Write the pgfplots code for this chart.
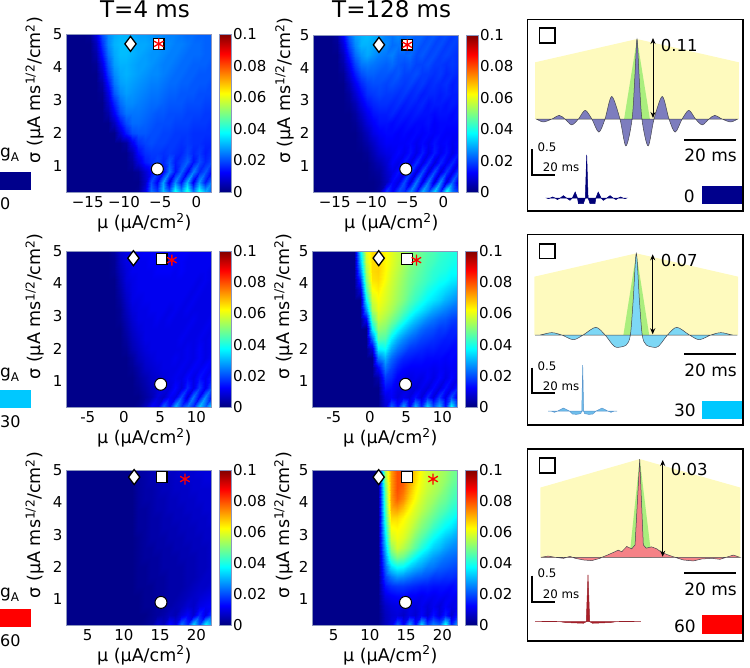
\documentclass[border=0pt]{standalone}
\usepackage{fontspec}
\setmainfont{DejaVu Sans}
\usepackage{pgfplots}
\usepackage{pgfplotstable}
\pgfplotsset{compat=1.18}
\usetikzlibrary{arrows.meta}
\newcommand{\fsz}[1]{\fontsize{#1}{#1}\selectfont}
\definecolor{axc}{RGB}{140,150,190}
\definecolor{yel}{RGB}{254,250,190}
\definecolor{grn}{RGB}{170,238,125}
\definecolor{navyb}{RGB}{0,0,140}
\definecolor{jet0}{RGB}{0,0,130}
\definecolor{cyanb}{RGB}{0,200,255}
\definecolor{cur}{RGB}{70,70,80}

% heat maps: 25 columns, 17 rows from sigma=5 down to 0.2, values in 1/1000
\pgfplotstableread[row sep=\\,header=false]{
1\\1\\1\\1\\2\\9\\20\\26\\29\\30\\30\\29\\28\\28\\27\\26\\26\\25\\25\\24\\23\\23\\22\\22\\22\\
1\\1\\1\\1\\1\\6\\17\\26\\30\\31\\31\\30\\29\\29\\28\\27\\26\\26\\25\\25\\24\\23\\23\\22\\22\\
1\\1\\1\\1\\1\\4\\14\\24\\29\\31\\31\\30\\29\\28\\27\\27\\26\\25\\25\\24\\23\\23\\23\\22\\22\\
1\\1\\1\\1\\1\\2\\10\\21\\28\\30\\30\\29\\28\\28\\27\\26\\25\\25\\24\\23\\23\\22\\22\\22\\21\\
1\\1\\1\\1\\1\\1\\7\\18\\26\\29\\30\\29\\28\\27\\26\\26\\25\\24\\23\\23\\22\\22\\21\\21\\21\\
1\\1\\1\\1\\1\\1\\4\\14\\24\\28\\29\\28\\27\\26\\25\\25\\24\\23\\23\\22\\22\\21\\21\\21\\20\\
1\\1\\1\\1\\1\\1\\2\\10\\21\\26\\28\\27\\26\\25\\24\\24\\23\\22\\22\\21\\21\\21\\20\\20\\20\\
1\\1\\1\\1\\1\\1\\1\\7\\16\\23\\26\\26\\25\\24\\23\\23\\22\\21\\21\\21\\20\\20\\20\\19\\19\\
1\\1\\1\\1\\1\\1\\1\\4\\12\\20\\24\\24\\24\\23\\22\\21\\21\\20\\20\\20\\19\\19\\19\\18\\18\\
1\\1\\1\\1\\1\\1\\1\\1\\6\\14\\20\\23\\23\\22\\21\\20\\20\\20\\19\\19\\19\\18\\18\\18\\17\\
1\\1\\1\\1\\1\\1\\1\\1\\1\\8\\15\\20\\21\\21\\20\\20\\19\\19\\18\\18\\18\\17\\17\\17\\17\\
1\\1\\1\\1\\1\\1\\1\\1\\1\\1\\3\\11\\17\\19\\20\\19\\19\\18\\18\\17\\18\\17\\17\\16\\16\\
1\\1\\1\\1\\1\\1\\1\\1\\1\\1\\1\\5\\13\\17\\18\\18\\17\\18\\17\\16\\19\\16\\18\\15\\17\\
1\\1\\1\\1\\1\\1\\1\\1\\1\\1\\1\\3\\9\\15\\17\\19\\16\\21\\15\\18\\22\\14\\20\\16\\19\\
1\\1\\1\\1\\1\\1\\1\\1\\1\\1\\1\\1\\2\\8\\13\\18\\13\\24\\14\\22\\12\\25\\16\\21\\13\\
1\\1\\1\\1\\1\\1\\1\\1\\1\\1\\1\\1\\1\\7\\20\\12\\28\\10\\26\\14\\30\\11\\27\\15\\24\\
1\\1\\1\\1\\1\\1\\1\\1\\1\\1\\1\\1\\2\\10\\24\\18\\32\\22\\40\\28\\42\\24\\40\\30\\22\\
}\tA
\pgfplotstableread[row sep=\\,header=false]{
1\\1\\1\\1\\3\\12\\22\\28\\30\\31\\30\\28\\25\\24\\26\\23\\24\\22\\22\\20\\21\\19\\20\\18\\19\\
1\\1\\1\\1\\2\\9\\19\\26\\30\\30\\29\\27\\26\\23\\24\\25\\21\\22\\20\\21\\19\\20\\18\\19\\18\\
1\\1\\1\\1\\1\\6\\15\\23\\27\\29\\27\\25\\24\\25\\22\\22\\23\\20\\21\\19\\20\\18\\19\\18\\17\\
1\\1\\1\\1\\1\\4\\11\\19\\24\\25\\24\\23\\22\\23\\21\\20\\21\\19\\19\\20\\18\\18\\17\\18\\17\\
1\\1\\1\\1\\1\\2\\8\\15\\20\\22\\22\\21\\21\\20\\21\\19\\19\\20\\18\\18\\17\\18\\16\\17\\16\\
1\\1\\1\\1\\1\\1\\5\\11\\16\\19\\20\\20\\19\\20\\19\\18\\19\\17\\18\\16\\17\\16\\17\\15\\16\\
1\\1\\1\\1\\1\\1\\3\\8\\13\\17\\18\\19\\18\\18\\17\\18\\16\\17\\15\\16\\16\\15\\16\\15\\15\\
1\\1\\1\\1\\1\\1\\2\\5\\10\\14\\16\\17\\17\\16\\17\\15\\16\\15\\16\\14\\15\\15\\14\\15\\14\\
1\\1\\1\\1\\1\\1\\1\\3\\7\\11\\14\\15\\15\\16\\14\\15\\14\\15\\14\\14\\13\\14\\14\\13\\14\\
1\\1\\1\\1\\1\\1\\1\\2\\5\\9\\12\\14\\14\\13\\14\\13\\14\\13\\13\\14\\12\\13\\13\\13\\13\\
1\\1\\1\\1\\1\\1\\1\\1\\3\\6\\10\\12\\13\\13\\12\\13\\12\\13\\12\\13\\12\\13\\12\\12\\12\\
1\\1\\1\\1\\1\\1\\1\\1\\2\\4\\7\\10\\12\\12\\12\\12\\13\\11\\13\\11\\14\\12\\13\\11\\13\\
1\\1\\1\\1\\1\\1\\1\\1\\1\\2\\5\\8\\10\\11\\13\\11\\14\\10\\15\\10\\15\\11\\14\\10\\14\\
1\\1\\1\\1\\1\\1\\1\\1\\1\\1\\3\\5\\8\\12\\10\\15\\10\\17\\10\\17\\9\\16\\11\\16\\10\\
1\\1\\1\\1\\1\\1\\1\\1\\1\\1\\2\\3\\7\\10\\14\\9\\18\\9\\20\\9\\20\\9\\18\\10\\19\\
1\\1\\1\\1\\1\\1\\1\\1\\1\\1\\1\\2\\6\\13\\10\\20\\9\\24\\10\\24\\9\\26\\9\\22\\10\\
1\\1\\1\\1\\1\\1\\1\\1\\1\\1\\1\\3\\18\\12\\20\\16\\26\\14\\30\\20\\34\\16\\40\\24\\18\\
}\tB
\pgfplotstableread[row sep=\\,header=false]{
1\\1\\1\\1\\1\\1\\1\\1\\3\\8\\10\\11\\11\\12\\12\\12\\12\\12\\12\\12\\12\\11\\11\\11\\11\\
1\\1\\1\\1\\1\\1\\1\\1\\2\\7\\10\\11\\11\\11\\12\\12\\12\\12\\12\\12\\11\\11\\11\\11\\11\\
1\\1\\1\\1\\1\\1\\1\\1\\2\\6\\9\\11\\11\\11\\11\\12\\12\\12\\11\\12\\11\\11\\11\\11\\10\\
1\\1\\1\\1\\1\\1\\1\\1\\1\\5\\9\\10\\11\\11\\11\\11\\11\\11\\11\\11\\11\\11\\10\\11\\10\\
1\\1\\1\\1\\1\\1\\1\\1\\1\\4\\8\\10\\11\\11\\11\\11\\11\\11\\11\\11\\11\\10\\11\\10\\10\\
1\\1\\1\\1\\1\\1\\1\\1\\1\\3\\7\\10\\10\\11\\11\\11\\11\\11\\11\\11\\10\\11\\10\\10\\10\\
1\\1\\1\\1\\1\\1\\1\\1\\1\\2\\6\\9\\10\\10\\11\\11\\11\\10\\11\\10\\11\\10\\10\\10\\10\\
1\\1\\1\\1\\1\\1\\1\\1\\1\\2\\5\\8\\10\\10\\10\\11\\10\\11\\10\\10\\10\\11\\10\\10\\11\\
1\\1\\1\\1\\1\\1\\1\\1\\1\\1\\4\\7\\9\\10\\10\\10\\10\\10\\10\\10\\11\\10\\10\\11\\10\\
1\\1\\1\\1\\1\\1\\1\\1\\1\\1\\3\\6\\8\\10\\10\\10\\10\\10\\10\\11\\10\\10\\11\\10\\11\\
1\\1\\1\\1\\1\\1\\1\\1\\1\\1\\2\\5\\7\\9\\10\\10\\10\\10\\10\\10\\11\\10\\12\\10\\11\\
1\\1\\1\\1\\1\\1\\1\\1\\1\\1\\1\\3\\6\\8\\9\\10\\10\\10\\11\\10\\11\\10\\12\\10\\12\\
1\\1\\1\\1\\1\\1\\1\\1\\1\\1\\1\\2\\4\\7\\8\\9\\10\\10\\10\\11\\10\\12\\11\\13\\11\\
1\\1\\1\\1\\1\\1\\1\\1\\1\\1\\1\\1\\3\\5\\7\\8\\9\\10\\11\\10\\13\\10\\14\\11\\15\\
1\\1\\1\\1\\1\\1\\1\\1\\1\\1\\1\\1\\2\\4\\6\\8\\10\\9\\13\\9\\16\\10\\18\\11\\20\\
1\\1\\1\\1\\1\\1\\1\\1\\1\\1\\1\\1\\1\\3\\5\\9\\7\\12\\10\\20\\9\\24\\12\\26\\14\\
1\\1\\1\\1\\1\\1\\1\\1\\1\\1\\1\\1\\2\\6\\12\\10\\22\\14\\30\\18\\24\\16\\32\\22\\36\\
}\tC
\pgfplotstableread[row sep=\\,header=false]{
1\\1\\1\\1\\1\\1\\1\\1\\35\\60\\66\\66\\63\\60\\57\\55\\52\\50\\48\\46\\45\\43\\42\\41\\40\\
1\\1\\1\\1\\1\\1\\1\\1\\30\\58\\66\\66\\63\\60\\57\\54\\51\\49\\47\\45\\44\\42\\41\\40\\39\\
1\\1\\1\\1\\1\\1\\1\\1\\24\\54\\66\\67\\63\\59\\56\\53\\50\\48\\46\\44\\42\\41\\40\\38\\38\\
1\\1\\1\\1\\1\\1\\1\\1\\16\\50\\65\\66\\62\\58\\55\\52\\49\\47\\45\\43\\41\\39\\38\\36\\35\\
1\\1\\1\\1\\1\\1\\1\\1\\8\\44\\62\\64\\60\\57\\54\\51\\48\\45\\43\\40\\38\\36\\34\\32\\30\\
1\\1\\1\\1\\1\\1\\1\\1\\1\\36\\58\\62\\59\\56\\53\\50\\46\\43\\40\\37\\35\\33\\30\\28\\26\\
1\\1\\1\\1\\1\\1\\1\\1\\1\\26\\54\\60\\57\\54\\50\\46\\42\\38\\35\\32\\29\\27\\25\\23\\22\\
1\\1\\1\\1\\1\\1\\1\\1\\1\\12\\46\\57\\54\\50\\46\\41\\36\\32\\29\\26\\24\\22\\21\\19\\18\\
1\\1\\1\\1\\1\\1\\1\\1\\1\\1\\36\\52\\50\\44\\38\\33\\29\\26\\23\\21\\20\\18\\18\\16\\16\\
1\\1\\1\\1\\1\\1\\1\\1\\1\\1\\22\\46\\45\\36\\30\\26\\23\\21\\19\\18\\17\\16\\15\\15\\14\\
1\\1\\1\\1\\1\\1\\1\\1\\1\\1\\8\\36\\38\\29\\24\\21\\18\\17\\16\\15\\15\\14\\14\\13\\13\\
1\\1\\1\\1\\1\\1\\1\\1\\1\\1\\1\\24\\30\\23\\19\\16\\15\\14\\14\\13\\13\\13\\12\\13\\12\\
1\\1\\1\\1\\1\\1\\1\\1\\1\\1\\1\\12\\24\\19\\15\\13\\12\\12\\12\\12\\11\\12\\11\\12\\11\\
1\\1\\1\\1\\1\\1\\1\\1\\1\\1\\1\\4\\18\\16\\12\\11\\10\\11\\10\\12\\10\\13\\10\\13\\10\\
1\\1\\1\\1\\1\\1\\1\\1\\1\\1\\1\\1\\14\\13\\10\\9\\10\\9\\11\\9\\13\\9\\14\\10\\15\\
1\\1\\1\\1\\1\\1\\1\\1\\1\\1\\1\\1\\10\\12\\9\\11\\9\\14\\9\\16\\9\\18\\10\\20\\10\\
1\\1\\1\\1\\1\\1\\1\\1\\1\\1\\1\\1\\8\\22\\14\\28\\12\\30\\16\\34\\20\\30\\14\\38\\20\\
}\tD
\pgfplotstableread[row sep=\\,header=false]{
1\\1\\1\\1\\1\\1\\1\\1\\1\\1\\1\\1\\3\\4\\5\\6\\6\\7\\7\\8\\8\\8\\9\\9\\9\\
1\\1\\1\\1\\1\\1\\1\\1\\1\\1\\1\\1\\3\\4\\5\\5\\6\\6\\7\\7\\8\\8\\8\\9\\9\\
1\\1\\1\\1\\1\\1\\1\\1\\1\\1\\1\\1\\3\\4\\4\\5\\6\\6\\7\\7\\7\\8\\8\\8\\8\\
1\\1\\1\\1\\1\\1\\1\\1\\1\\1\\1\\1\\3\\4\\4\\5\\5\\6\\6\\7\\7\\7\\8\\8\\8\\
1\\1\\1\\1\\1\\1\\1\\1\\1\\1\\1\\1\\3\\3\\4\\5\\5\\6\\6\\6\\7\\7\\7\\8\\8\\
1\\1\\1\\1\\1\\1\\1\\1\\1\\1\\1\\1\\3\\3\\4\\4\\5\\5\\6\\6\\6\\7\\7\\7\\8\\
1\\1\\1\\1\\1\\1\\1\\1\\1\\1\\1\\1\\3\\3\\4\\4\\5\\5\\5\\6\\6\\6\\7\\7\\7\\
1\\1\\1\\1\\1\\1\\1\\1\\1\\1\\1\\1\\2\\3\\4\\4\\4\\5\\5\\5\\6\\6\\6\\7\\7\\
1\\1\\1\\1\\1\\1\\1\\1\\1\\1\\1\\1\\2\\3\\3\\4\\4\\4\\5\\5\\5\\6\\6\\6\\7\\
1\\1\\1\\1\\1\\1\\1\\1\\1\\1\\1\\1\\2\\3\\3\\3\\4\\4\\4\\5\\5\\5\\6\\6\\7\\
1\\1\\1\\1\\1\\1\\1\\1\\1\\1\\1\\1\\2\\2\\3\\3\\4\\4\\4\\4\\5\\5\\6\\6\\7\\
1\\1\\1\\1\\1\\1\\1\\1\\1\\1\\1\\1\\2\\2\\3\\3\\3\\4\\4\\4\\5\\5\\6\\7\\7\\
1\\1\\1\\1\\1\\1\\1\\1\\1\\1\\1\\1\\2\\2\\2\\3\\3\\4\\4\\4\\5\\6\\7\\7\\8\\
1\\1\\1\\1\\1\\1\\1\\1\\1\\1\\1\\1\\1\\2\\2\\3\\3\\4\\4\\5\\6\\7\\8\\9\\10\\
1\\1\\1\\1\\1\\1\\1\\1\\1\\1\\1\\1\\1\\2\\2\\3\\3\\4\\5\\6\\8\\7\\10\\11\\12\\
1\\1\\1\\1\\1\\1\\1\\1\\1\\1\\1\\1\\1\\1\\2\\3\\4\\6\\5\\9\\12\\8\\16\\10\\18\\
1\\1\\1\\1\\1\\1\\1\\1\\1\\1\\1\\1\\1\\2\\3\\8\\6\\14\\10\\24\\16\\34\\20\\38\\30\\
}\tE
\pgfplotstableread[row sep=\\,header=false]{
1\\1\\1\\1\\1\\1\\1\\1\\1\\1\\1\\1\\55\\72\\80\\80\\74\\67\\62\\58\\57\\55\\53\\50\\48\\
1\\1\\1\\1\\1\\1\\1\\1\\1\\1\\1\\1\\52\\72\\80\\79\\72\\66\\61\\58\\56\\54\\52\\49\\47\\
1\\1\\1\\1\\1\\1\\1\\1\\1\\1\\1\\1\\48\\72\\80\\77\\70\\64\\60\\57\\55\\53\\50\\47\\45\\
1\\1\\1\\1\\1\\1\\1\\1\\1\\1\\1\\1\\46\\72\\78\\74\\67\\62\\58\\55\\53\\50\\48\\45\\43\\
1\\1\\1\\1\\1\\1\\1\\1\\1\\1\\1\\1\\44\\70\\72\\68\\63\\59\\56\\53\\50\\47\\45\\42\\40\\
1\\1\\1\\1\\1\\1\\1\\1\\1\\1\\1\\1\\42\\66\\66\\63\\60\\57\\53\\50\\47\\44\\41\\39\\36\\
1\\1\\1\\1\\1\\1\\1\\1\\1\\1\\1\\1\\38\\62\\63\\61\\58\\54\\50\\47\\43\\40\\37\\35\\32\\
1\\1\\1\\1\\1\\1\\1\\1\\1\\1\\1\\1\\34\\58\\61\\59\\55\\50\\46\\42\\38\\35\\32\\30\\28\\
1\\1\\1\\1\\1\\1\\1\\1\\1\\1\\1\\1\\30\\52\\58\\55\\51\\46\\41\\37\\33\\31\\28\\26\\25\\
1\\1\\1\\1\\1\\1\\1\\1\\1\\1\\1\\1\\26\\44\\50\\48\\43\\38\\34\\31\\28\\26\\24\\23\\22\\
1\\1\\1\\1\\1\\1\\1\\1\\1\\1\\1\\1\\22\\34\\38\\37\\33\\30\\28\\25\\24\\22\\21\\20\\19\\
1\\1\\1\\1\\1\\1\\1\\1\\1\\1\\1\\1\\18\\24\\27\\26\\24\\22\\21\\20\\18\\18\\17\\17\\16\\
1\\1\\1\\1\\1\\1\\1\\1\\1\\1\\1\\1\\14\\17\\18\\18\\17\\16\\15\\15\\14\\14\\14\\13\\14\\
1\\1\\1\\1\\1\\1\\1\\1\\1\\1\\1\\1\\10\\12\\13\\13\\12\\12\\11\\12\\11\\12\\11\\12\\11\\
1\\1\\1\\1\\1\\1\\1\\1\\1\\1\\1\\1\\7\\9\\10\\9\\10\\9\\11\\9\\11\\9\\12\\10\\11\\
1\\1\\1\\1\\1\\1\\1\\1\\1\\1\\1\\1\\6\\8\\9\\7\\10\\8\\12\\8\\14\\9\\15\\8\\14\\
1\\1\\1\\1\\1\\1\\1\\1\\1\\1\\1\\1\\6\\10\\22\\12\\28\\14\\34\\18\\26\\22\\40\\16\\30\\
}\tF

\pgfplotsset{heat/.style={
  scale only axis, width=145pt, colormap/jet,
  point meta min=0, point meta max=100,
  ymin=0.2, ymax=5, ytick={1,2,3,4,5},
  tick style={draw=none}, axis line style={draw=axc,line width=.6pt},
  axis on top, axis background/.style={fill=jet0},
  tick label style={font=\fsz{15}},
  /pgf/number format/assume math mode=true,
  xticklabel style={yshift=-1pt},
  xlabel={μ (μA/cm\textsuperscript{2})},
  ylabel={σ (μA ms\textsuperscript{1/2}/cm\textsuperscript{2})},
  every axis x label/.style={at={(axis description cs:0.54,-0.195)},anchor=center,font=\fsz{17.5}},
  colorbar,
  colorbar style={
    scale only axis, width=12pt,
    at={(parent axis.north east)}, anchor=north west, xshift=0pt,
    ytick={0,20,40,60,80,100}, yticklabels={0,0.02,0.04,0.06,0.08,0.1},
    tick style={draw=none}, axis line style={draw=axc,line width=.4pt},
    axis background/.style={},
    yticklabel style={font=\fsz{15},xshift=-2pt},
  },
},
inset/.style={scale only axis, axis lines=none, clip=false, anchor=south west, no marks},
}

% #1 left, #2 bottom, #3 height, #4 table, #5 xmin, #6 xtick, #7 labels, #8 ylabel offset, #9 marks
\newcommand{\heat}[9]{
  \pgfmathsetmacro{\xhi}{#5+20}
  \begin{axis}[heat, at={(#1pt,-#2pt)}, anchor=south west, height=#3pt,
    xmin=#5, xmax=\xhi, xtick={#6}, xticklabels={#7},
    every axis y label/.style={at={(axis description cs:#8,0.645)},rotate=90,anchor=center,font=\fsz{17.5}}]
  \addplot[surf, shader=interp, mesh/cols=25, point meta=explicit]
    table[x index=0, y index=0, x expr={#5+mod(\coordindex,25)*20/24}, y expr={5-floor(\coordindex/25)*0.3}, meta index=0] {#4};
  #9
  \end{axis}
}
% diamond, square, circle, star
\newcommand{\hmarks}[8]{
  \addplot[only marks, mark=diamond*, mark size=7.5, mark options={fill=white,draw=black,line width=1.3pt}] coordinates {(#1,#2)};
  \addplot[only marks, mark=square*, mark size=5.3, mark options={fill=white,draw=black,line width=1.3pt}] coordinates {(#3,#4)};
  \addplot[only marks, mark=*, mark size=6, mark options={fill=white,draw=black,line width=1pt}] coordinates {(#5,#6)};
  \addplot[only marks, mark=asterisk, mark size=5.5, mark options={draw=red,line width=1.3pt}] coordinates {(#7,#8)};
}
% frame, little square, arrow, value, scale bars
\newcommand{\frm}[9]{% #1 top, #2 bottom, #3 square top, #4 arrow x, #5 arrow top, #6 arrow bottom, #7 value text, #8 value x, #9 value y
  \draw[line width=1.6pt] (527.5,#1) rectangle (742.7,#2);
  \draw[line width=1.7pt] (539.5,#3) rectangle ++(15.5,14.4);
  \draw[{Stealth[length=6pt,width=5pt]}-{Stealth[length=6pt,width=5pt]},line width=.9pt] (#4,#5) -- (#4,#6);
  \node[anchor=west,inner sep=0pt,font=\fsz{16.5}] at (#8,#9) {#7};
}
% #1 bar y, #2 bar text y, #3 L top, #4 L bottom, #5 0.5 y, #6 20ms y
\newcommand{\bars}[6]{
  \draw[line width=1.7pt] (684.3,#1) -- (736,#1);
  \node[inner sep=0pt,font=\fsz{17}] at (710.5,#2) {20 ms};
  \draw[line width=1.7pt] (531.7,#3) -- (531.7,#4) -- (555,#4);
  \node[anchor=west,inner sep=0pt,font=\fsz{11.8}] at (537.5,#5) {0.5};
  \node[anchor=west,inner sep=0pt,font=\fsz{11.8}] at (542.7,#6) {20 ms};
}

\begin{document}
\begin{tikzpicture}[x=1pt,y=-1pt]
\path[use as bounding box] (0,0) rectangle (750,667);

\node[font=\fsz{23}] at (145,9.5) {T=4 ms};
\node[font=\fsz{23}] at (391.7,9.5) {T=128 ms};

\heat{66}{192}{158}{\tA}{-18}{-15,-10,-5,0}{−15,−10,−5,0}{-0.214}{\hmarks{-9.1}{4.7}{-5.2}{4.7}{-5.4}{0.9}{-5.2}{4.7}}
\heat{313}{192}{157}{\tB}{-18}{-15,-10,-5,0}{−15,−10,−5,0}{-0.195}{\hmarks{-8.9}{4.7}{-5}{4.7}{-5.2}{0.9}{-5}{4.7}}
\heat{66}{407}{156}{\tC}{-8}{-5,0,5,10}{-5,0,5,10}{-0.214}{\hmarks{1.3}{4.78}{5.2}{4.75}{5.06}{0.9}{6.6}{4.72}}
\heat{312}{407}{156}{\tD}{-8}{-5,0,5,10}{-5,0,5,10}{-0.195}{\hmarks{1.2}{4.78}{5.1}{4.75}{4.9}{0.9}{6.4}{4.72}}
\heat{66}{625}{155}{\tE}{2}{5,10,15,20}{5,10,15,20}{-0.214}{\hmarks{11.4}{4.78}{15.2}{4.78}{15.1}{0.9}{18.4}{4.72}}
\heat{312}{625}{155}{\tF}{2}{5,10,15,20}{5,10,15,20}{-0.195}{\hmarks{11.2}{4.78}{15.1}{4.78}{14.9}{0.9}{18.7}{4.72}}

% g_A swatches on the left
\fill[navyb] (0,172.3) rectangle (30.7,190);
\fill[cyanb] (0,390) rectangle (30.7,408.3);
\fill[red] (0,608.7) rectangle (30.7,626.7);
\node[anchor=west,inner sep=0pt,font=\fsz{17}] at (0,155) {g\raisebox{-4pt}{\fsz{12}A}};
\node[anchor=west,inner sep=0pt,font=\fsz{17}] at (0,375) {g\raisebox{-4pt}{\fsz{12}A}};
\node[anchor=west,inner sep=0pt,font=\fsz{17}] at (0,595) {g\raisebox{-4pt}{\fsz{12}A}};
\node[anchor=west,inner sep=0pt,font=\fsz{16}] at (0,204) {0};
\node[anchor=west,inner sep=0pt,font=\fsz{16}] at (0,421.7) {30};
\node[anchor=west,inner sep=0pt,font=\fsz{16}] at (0,640.7) {60};

% panel 1
\begin{axis}[inset, at={(531.2pt,-155.4pt)}, width=211.6pt, height=120pt, xmin=-41, xmax=41, ymin=-0.05, ymax=0.115]
\addplot[fill=yel,draw=none] coordinates {(-39.5,0) (-39.5,0.078) (0,0.11) (39.5,0.078) (39.5,0)} \closedcycle;
\addplot[fill=grn,draw=none] coordinates {(-5,0) (0,0.11) (5,0)} \closedcycle;
\addplot[smooth, tension=0.5, fill={rgb,255:red,125;green,125;blue,190}, draw=cur, line width=.5pt] coordinates {
(-39,0) (-36.3,-0.004) (-33,0) (-30.1,0.005) (-27.9,0) (-25.3,-0.008) (-22.7,0) (-20.1,0.012) (-17.5,0)
(-14.8,-0.018) (-12.4,0) (-9.8,0.031) (-6.6,0) (-4.3,-0.037) (-1.9,0) (-0.8,0.06) (0,0.11) (0.8,0.06) (1.9,0) (4.3,-0.037)
(6.6,0) (9.8,0.031) (12.4,0) (14.8,-0.018) (17.5,0) (20.1,0.012) (22.7,0) (25.3,-0.008) (27.9,0) (30.1,0.005) (33,0) (36.3,-0.004) (39,0)} \closedcycle;
\end{axis}
\begin{axis}[inset, at={(545.3pt,-208.4pt)}, width=82.8pt, height=57.2pt, xmin=-36, xmax=36, ymin=-0.2, ymax=0.9]
\addplot[fill=navyb!85!black, draw=navyb!85!black, line width=.5pt] coordinates {
(-34.8,0) (-33.3,-0.013) (-31.5,0) (-29.6,0.02) (-27.5,0) (-25.5,-0.03) (-23,0) (-20.3,0.045) (-17.5,0) (-14.5,-0.045) (-12.5,0) (-10,0.115)
(-8,0) (-7.2,-0.11) (-2.9,-0.11) (-1.2,0) (0,0.83) (1.2,0) (2.9,-0.11) (7.2,-0.11) (8,0) (10,0.115) (12.5,0) (14.5,-0.045) (17.5,0)
(20.3,0.045) (23,0) (25.5,-0.03) (27.5,0) (29.6,0.02) (31.5,0) (33.3,-0.013) (34.8,0)} \closedcycle;
\end{axis}
\frm{19.3}{210.7}{28.3}{653}{38}{118}{0.11}{660.7}{45.7}
\bars{140}{155}{149}{175}{147.3}{167.3}
\node[anchor=east,inner sep=0pt,font=\fsz{17}] at (695,196.7) {0};
\fill[navyb] (702.3,185.7) rectangle (741.7,204);

% panel 2
\begin{axis}[inset, at={(530.5pt,-370pt)}, width=211.6pt, height=122.5pt, xmin=-41, xmax=41, ymin=-0.03, ymax=0.075]
\addplot[fill=yel,draw=none] coordinates {(-39.5,0) (-39.5,0.05) (0,0.07) (39.5,0.05) (39.5,0)} \closedcycle;
\addplot[fill=grn,draw=none] coordinates {(-5,0) (0,0.07) (5,0)} \closedcycle;
\addplot[smooth, tension=0.5, fill={rgb,255:red,125;green,215;blue,245}, draw=cur, line width=.5pt] coordinates {
(-39.2,0) (-37.3,0) (-32.8,0.002) (-28.9,0) (-24.4,-0.004) (-20.6,0) (-15.7,0.0066) (-12.1,0) (-9.3,-0.008) (-7.6,-0.0106) (-3.9,-0.0086) (-2.3,0)
(-1.2,0.03) (0,0.07) (1.2,0.03) (2.3,0) (3.9,-0.0086) (7.6,-0.0106) (9.3,-0.008) (12.1,0) (15.7,0.0066) (20.6,0) (24.4,-0.004) (28.9,0) (32.8,0.002) (37.3,0) (39.2,0)} \closedcycle;
\end{axis}
\begin{axis}[inset, at={(541.3pt,-421.4pt)}, width=82.8pt, height=57.2pt, xmin=-36, xmax=36, ymin=-0.2, ymax=0.9]
\addplot[fill={rgb,255:red,110;green,190;blue,235}, draw={rgb,255:red,90;green,150;blue,205}, line width=.5pt] coordinates {
(-30,0) (-27.5,0) (-24.6,-0.025) (-21.7,0) (-16.8,0.057) (-11.6,0) (-8.7,-0.06) (-5.2,-0.064) (-1.7,-0.05) (-0.8,0) (0,0.88) (0.8,0) (1.7,-0.05) (5.2,-0.064) (8.7,-0.06)
(11.6,0) (16.8,0.057) (21.7,0) (24.6,-0.025) (27.5,0) (30,0)} \closedcycle;
\end{axis}
\frm{234.3}{425}{244}{652.7}{254.3}{334.3}{0.07}{660.7}{260}
\bars{354.3}{370}{367.7}{393.3}{365.7}{385.7}
\node[anchor=east,inner sep=0pt,font=\fsz{17}] at (696,410.7) {30};
\fill[cyanb] (702.3,400.7) rectangle (741.7,419);

% panel 3
\begin{axis}[inset, at={(533.9pt,-590.1pt)}, width=211.6pt, height=137.6pt, xmin=-41, xmax=41, ymin=-0.01, ymax=0.032]
\addplot[fill=yel,draw=none] coordinates {(-38.5,0) (-38.5,0.0213) (0,0.03) (39,0.0213) (39,0)} \closedcycle;
\addplot[fill=grn,draw=none] coordinates {(-4,0) (0,0.03) (4.6,0)} \closedcycle;
\addplot[fill={rgb,255:red,245;green,130;blue,135}, draw=cur, line width=.5pt] coordinates {
(-38.3,0) (-35.4,0.0004) (-32.8,0) (-29.5,-0.0003) (-27,0.0003) (-25,-0.0003) (-21.8,-0.0008) (-18.6,-0.001) (-15.4,-0.0003) (-14.7,0)
(-12.5,0.0007) (-10.2,0.0015) (-8.3,0.0022) (-7,0.0017) (-5,0.0033) (-3.1,0.0026) (-1.8,0.0038) (0,0.03) (1.4,0.0038) (2.5,0.0028) (4.6,0.0032)
(6.6,0.0026) (8.5,0.0015) (11.1,0.0007) (13.7,0) (16.9,-0.0008) (20.8,-0.0011) (24,-0.0005) (27.9,-0.0003) (31.1,-0.0006) (34.3,0.0002) (36.3,0.0007) (38.8,0)} \closedcycle;
\end{axis}
\begin{axis}[inset, at={(535.1pt,-632.1pt)}, width=105.8pt, height=57.2pt, xmin=-46, xmax=46, ymin=-0.2, ymax=0.9]
\addplot[fill={rgb,255:red,170;green,30;blue,40}, draw={rgb,255:red,150;green,30;blue,40}, line width=.5pt] coordinates {
(-46,0) (-40,0.004) (-30,0.008) (-24,0) (-20,-0.015) (-4,-0.03) (-1.5,0) (0,0.9) (1.5,0) (4,-0.03) (20,-0.015) (24,0) (30,0.008) (40,0.004) (46,0)} \closedcycle;
\end{axis}
\frm{449}{640.7}{458.3}{662.7}{460}{556.7}{0.03}{670.7}{469}
\bars{573.3}{589}{575.7}{601.7}{573.3}{594}
\node[anchor=east,inner sep=0pt,font=\fsz{17}] at (696,626.7) {60};
\fill[red] (702.3,615.3) rectangle (741.7,633.7);
\end{tikzpicture}
\end{document}
